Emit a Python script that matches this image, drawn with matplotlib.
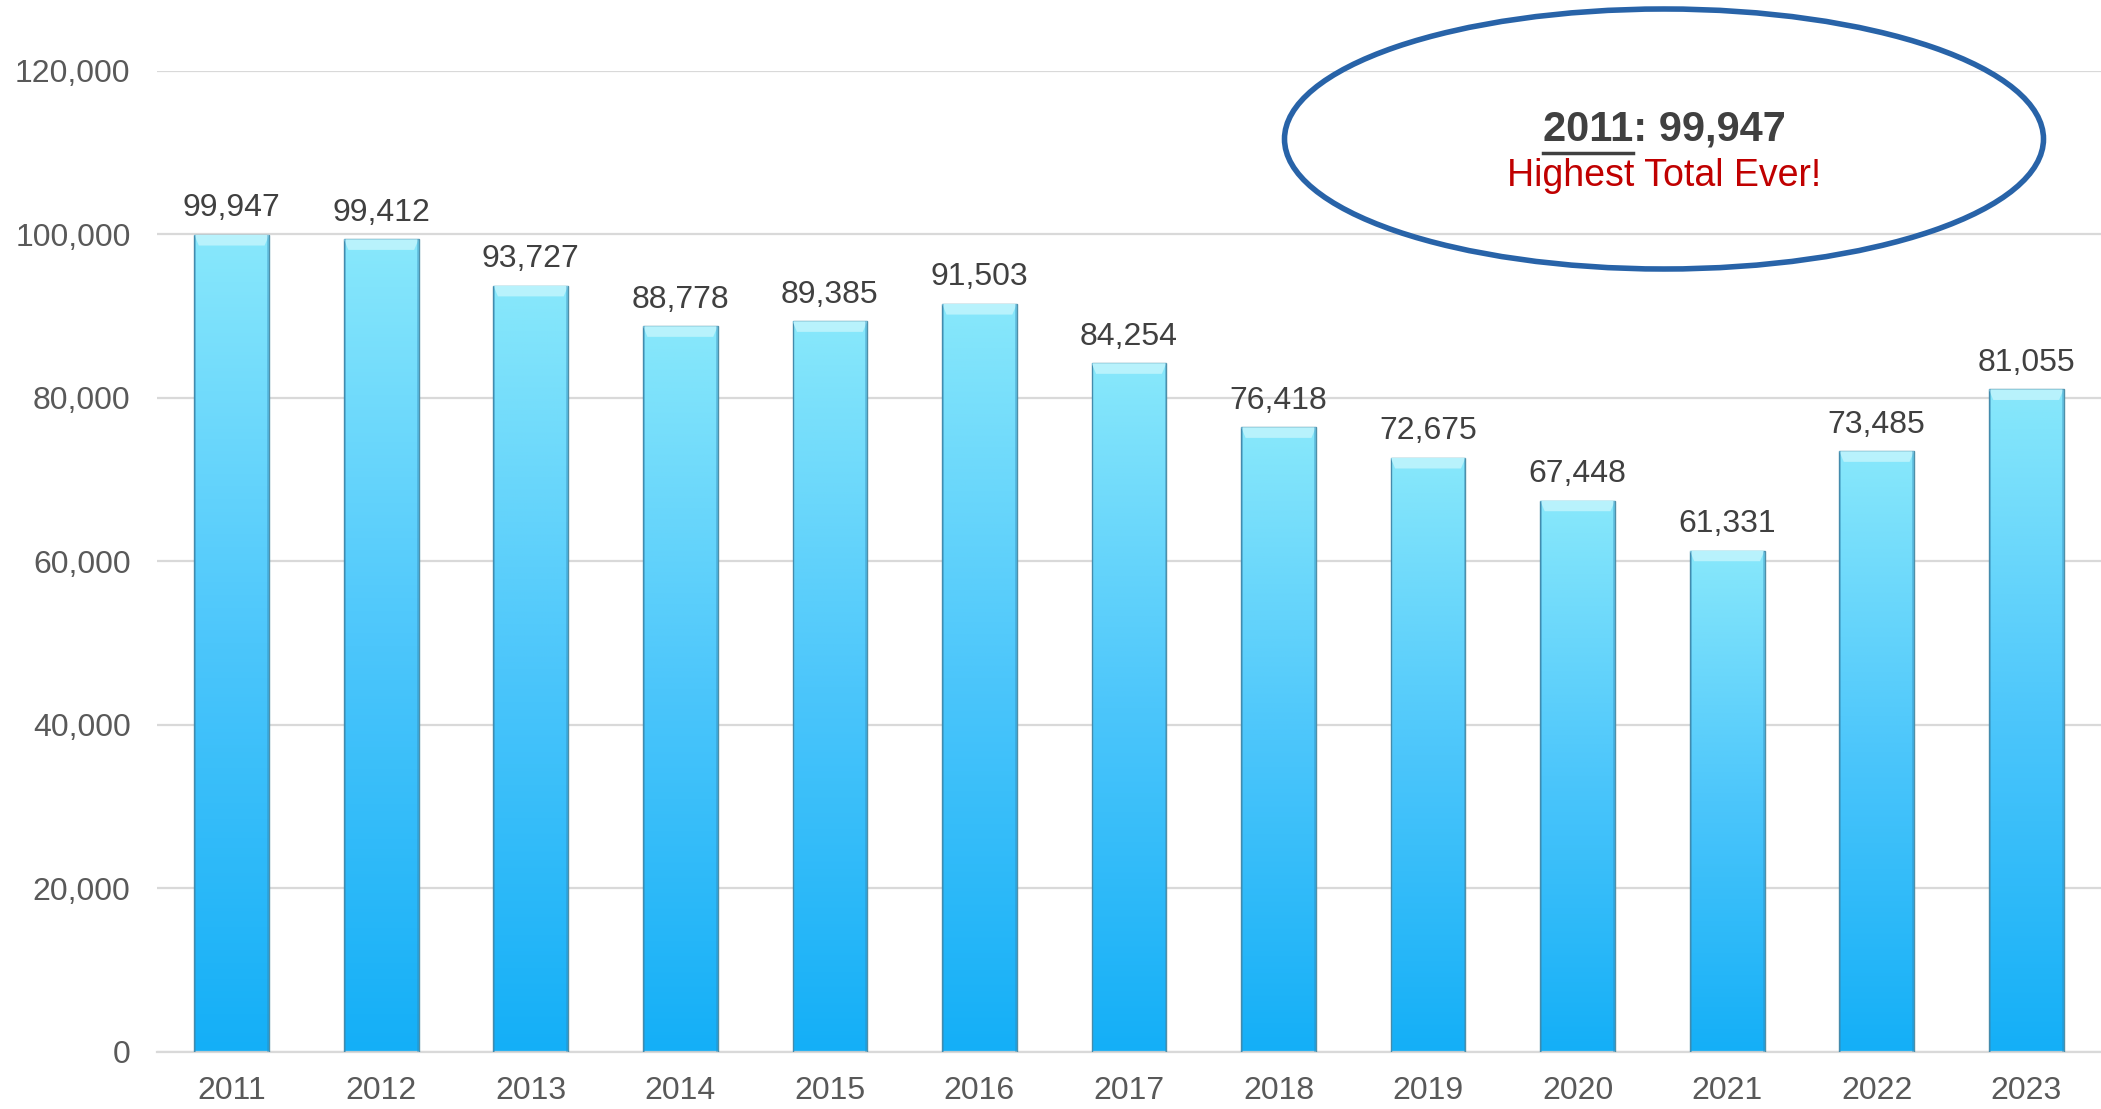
import numpy as np
import matplotlib.pyplot as plt
from matplotlib.patches import Ellipse, Polygon
from matplotlib.lines import Line2D
from matplotlib.colors import LinearSegmentedColormap
from matplotlib.ticker import FuncFormatter

years = ["2011", "2012", "2013", "2014", "2015", "2016", "2017",
         "2018", "2019", "2020", "2021", "2022", "2023"]
totals = [99947, 99412, 93727, 88778, 89385, 91503, 84254,
          76418, 72675, 67448, 61331, 73485, 81055]
y_ticks = [0, 20000, 40000, 60000, 80000, 100000, 120000]

plt.rcParams['font.family'] = ['Liberation Sans', 'DejaVu Sans']

fig = plt.figure(figsize=(21.01, 11.09), dpi=100)
ax = fig.add_axes([0.0747, 0.0514, 0.9253, 0.8846])

x = np.arange(len(years))
width = 0.5
bars = ax.bar(x, totals, width=width, color='none', edgecolor='#4f8fa8',
              linewidth=1.0, zorder=3)

# gradient fill per bar, light at the top, deeper blue at the bottom
cmap = LinearSegmentedColormap.from_list('bar', ['#14aff7', '#4cc6fb', '#88e8fb'])
grad = np.linspace(0, 1, 256).reshape(-1, 1)
for b in bars:
    bx, bw, bh = b.get_x(), b.get_width(), b.get_height()
    im = ax.imshow(grad, extent=[bx, bx + bw, 0, bh], origin='lower',
                   cmap=cmap, aspect='auto', zorder=2)
    im.set_clip_path(b)
    # top bevel
    bev_y = 1300
    bev_x = 0.03
    top = Polygon([[bx, bh], [bx + bw, bh], [bx + bw - bev_x, bh - bev_y],
                   [bx + bev_x, bh - bev_y]], closed=True,
                  facecolor='#b8f2fc', edgecolor='none', zorder=3)
    ax.add_patch(top)
    # side shading
    for sx in (bx, bx + bw - 0.012):
        ax.bar(sx + 0.006, bh, width=0.012, color='#2d86b8', alpha=0.35,
               linewidth=0, zorder=3)

for xi, v in zip(x, totals):
    ax.text(xi, v + 1400, f"{v:,}", ha='center', va='bottom',
            fontsize=23, color='#404040', zorder=4)

ax.set_xlim(-0.5, 12.5)
ax.set_ylim(0, 120000)
ax.set_yticks(y_ticks)
ax.yaxis.set_major_formatter(FuncFormatter(lambda v, p: f"{int(v):,}"))
ax.set_xticks(x)
ax.set_xticklabels(years)
ax.tick_params(axis='both', length=0, labelsize=23, labelcolor='#595959')
ax.tick_params(axis='x', pad=17)
ax.tick_params(axis='y', pad=19)
ax.grid(axis='y', color='#d9d9d9', linewidth=1.6, zorder=0)
ax.set_axisbelow(True)
for s in ['top', 'right', 'left']:
    ax.spines[s].set_visible(False)
ax.spines['bottom'].set_color('#d9d9d9')
ax.spines['bottom'].set_linewidth(1.6)

# callout ellipse in figure coordinates
ell = Ellipse((1664 / 2101, 1 - 139 / 1109), 759 / 2101, 260 / 1109,
              transform=fig.transFigure, facecolor='none',
              edgecolor='#2863a8', linewidth=4, zorder=10)
fig.patches.append(ell)

cx, cy = 1664 / 2101, 1 - 129 / 1109
head = fig.text(cx, cy, "2011: 99,947", ha='center', va='center',
                fontsize=30, fontweight='bold', color='#404040')
probe = fig.text(0, 0, "2011", fontsize=30, fontweight='bold', alpha=0)
fig.canvas.draw()
r = fig.canvas.get_renderer()
hb = head.get_window_extent(r).transformed(fig.transFigure.inverted())
pb = probe.get_window_extent(r).transformed(fig.transFigure.inverted())
probe.remove()
uy = hb.y0 - 0.004
fig.add_artist(Line2D([hb.x0, hb.x0 + pb.width], [uy, uy],
                      transform=fig.transFigure, color='#404040', linewidth=2.5))

fig.text(cx, 1 - 176 / 1109, "Highest Total Ever!", ha='center',
         va='center', fontsize=27, color='#c00000')

fig.savefig('out.png', dpi=100)
